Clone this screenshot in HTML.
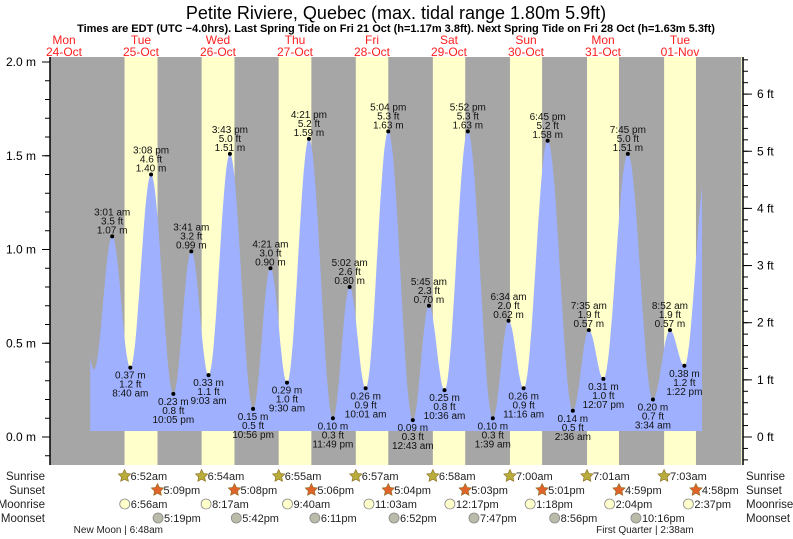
<!DOCTYPE html>
<html><head><meta charset="utf-8"><style>
body{margin:0;background:#fff;}
svg{display:block;font-family:"Liberation Sans",sans-serif;}
</style></head><body>
<svg id="c" width="793" height="539" viewBox="0 0 793 539"></svg>
<script>
// ---- data ----
const eventTimes=["10-24 14:40","10-24 21:20","10-25 03:01","10-25 08:40","10-25 15:08","10-25 22:05","10-26 03:41","10-26 09:03","10-26 15:43","10-26 22:56","10-27 04:21","10-27 09:30","10-27 16:21","10-27 23:49","10-28 05:02","10-28 10:01","10-28 17:04","10-29 00:43","10-29 05:45","10-29 10:36","10-29 17:52","10-30 01:39","10-30 06:34","10-30 11:16","10-30 18:45","10-31 02:36","10-31 07:35","10-31 12:07","10-31 19:45","11-01 03:34","11-01 08:52","11-01 13:22","11-01 20:20"];
const eventHeights=[1.30,0.36,1.07,0.37,1.40,0.23,0.99,0.33,1.51,0.15,0.90,0.29,1.59,0.10,0.80,0.26,1.63,0.09,0.70,0.25,1.63,0.10,0.62,0.26,1.58,0.14,0.57,0.31,1.51,0.20,0.57,0.38,1.45];
const eventLabeled=[0,0,1,1,1,1,1,1,1,1,1,1,1,1,1,1,1,1,1,1,1,1,1,1,1,1,1,1,1,1,1,1,0];
const dayNames=["Mon","Tue","Wed","Thu","Fri","Sat","Sun","Mon","Tue"];
const dayDates=["24-Oct","25-Oct","26-Oct","27-Oct","28-Oct","29-Oct","30-Oct","31-Oct","01-Nov"];
const sunrises=["6:52am","6:54am","6:55am","6:57am","6:58am","7:00am","7:01am","7:03am","7:04am"];
const sunsets=["5:09pm","5:08pm","5:06pm","5:04pm","5:03pm","5:01pm","4:59pm","4:58pm"];
const moonrises=["6:56am","8:17am","9:40am","11:03am","12:17pm","1:18pm","2:04pm","2:37pm"];
const moonsets=["5:19pm","5:42pm","6:11pm","6:52pm","7:47pm","8:56pm","10:16pm"];
const mTicks=[0,0.5,1.0,1.5,2.0];
const ftTicks=[0,1,2,3,4,5,6];
const curveStart="10-24 20:10", curveEnd="11-01 18:52";
// ---- scales ----
const X0=102.5, PXD=77, Y0=437, PXM=187.5;
const L=50,R=742,T=57,B=465;
function dayIdx(s){const [md,hm]=s.split(" ");const [mo,d]=md.split("-").map(Number);const [h,m]=hm.split(":").map(Number);const dd=(mo===10?d-25:d+6);return dd+(h+m/60)/24;}
function t12(s){let m=s.match(/(\d+):(\d+)(am|pm)/);let h=+m[1]%12+(m[3]==="pm"?12:0);return (h+ +m[2]/60)/24;}
const x=t=>X0+t*PXD, y=v=>Y0-v*PXM;
const svg=document.getElementById('c');const NS="http://www.w3.org/2000/svg";
function el(tag,attrs,txt){const e=document.createElementNS(NS,tag);for(const k in attrs)e.setAttribute(k,attrs[k]);if(txt!==undefined)e.textContent=txt;svg.appendChild(e);return e;}
// background
let bg=el('rect',{x:L,y:T,width:R-L,height:B-T,fill:'#a6a6a6'});


for(let d=0;d<=8;d++){
  const sr=d+t12(sunrises[d]);const ss=d<8?d+t12(sunsets[d]):d+0.72;
  const a=Math.max(L,x(sr)),b=Math.min(R,x(ss));if(b<=a)continue;
  const r=el('rect',{x:a,y:T,width:b-a,height:B-T,fill:'#ffffcc'});
  
  
}
// curve
const et=eventTimes.map(dayIdx);
function h(t){for(let i=0;i<et.length-1;i++){if(t>=et[i]&&t<=et[i+1]){const f=(t-et[i])/(et[i+1]-et[i]);return eventHeights[i]+(eventHeights[i+1]-eventHeights[i])*(1-Math.cos(Math.PI*f))/2;}}return eventHeights[0];}
const cs=dayIdx(curveStart),ce=dayIdx(curveEnd);const base=431;
let p=`M${x(cs)},${base}`;for(let t=cs;t<=ce;t+=0.004)p+=`L${x(t).toFixed(1)},${y(h(t)).toFixed(1)}`;p+=`L${x(ce)},${y(h(ce))}L${x(ce)},${base}Z`;
const area=el('path',{d:p,fill:'#9fb1fe'});


// labels
function fmt(s){const hm=s.split(" ")[1];let [hh,mm]=hm.split(":").map(Number);const ap=hh<12?"am":"pm";hh=hh%12||12;return hh+":"+String(mm).padStart(2,"0")+" "+ap;}
for(let i=0;i<et.length;i++){if(!eventLabeled[i])continue;
  const px=x(et[i]),py=y(eventHeights[i]);
  const hi=(i>0&&eventHeights[i]>eventHeights[i-1])||(i===0);
  const dot=el('circle',{cx:px,cy:py,r:2,fill:'#000'});
  
  
  const ls=[eventHeights[i].toFixed(2)+" m",(eventHeights[i]*3.2808).toFixed(1)+" ft",fmt(eventTimes[i])];
  const off=hi?[-3,-12,-21]:[11,20,29];
  ls.forEach((s,k)=>{const t=el('text',{x:px,y:py+off[k],'font-size':10,'text-anchor':'middle',fill:'#111'},s);
    
    });
}
// axes
el('line',{x1:L,y1:T,x2:L,y2:B,stroke:'#000','stroke-width':1.5});
el('line',{x1:743,y1:T,x2:743,y2:B,stroke:'#000','stroke-width':1.5});
for(let v=-0.1;v<=2.05;v+=0.1){const yy=y(v);if(yy<T||yy>B)continue;el('line',{x1:45,y1:yy,x2:L,y2:yy,stroke:'#000'});}
mTicks.forEach(v=>{el('line',{x1:42,y1:y(v),x2:L,y2:y(v),stroke:'#000'});
  const t=el('text',{x:36,y:y(v)+4,'font-size':12,'text-anchor':'end'},v.toFixed(1)+" m");
  
  });
for(let f=-0.4;f<=7;f+=0.2){const yy=Y0-f*0.3048*PXM;if(yy<T||yy>B)continue;el('line',{x1:743,y1:yy,x2:748,y2:yy,stroke:'#000'});}
ftTicks.forEach(f=>{const yy=Y0-f*0.3048*PXM;el('line',{x1:743,y1:yy,x2:752,y2:yy,stroke:'#000'});
  const t=el('text',{x:757,y:yy+4,'font-size':12},f+" ft");
  
  });
// title
let tt=el('text',{x:396,y:19,'font-size':18,'text-anchor':'middle'},"Petite Riviere, Quebec (max. tidal range 1.80m 5.9ft)");


let st=el('text',{x:396,y:32,'font-size':11,'font-weight':'bold','text-anchor':'middle'},"Times are EDT (UTC \u22124.0hrs). Last Spring Tide on Fri 21 Oct (h=1.17m 3.8ft). Next Spring Tide on Fri 28 Oct (h=1.63m 5.3ft)");


dayNames.forEach((n,i)=>{const cx=x(i-1+0.5);
  const a=el('text',{x:cx,y:44,'font-size':12,'text-anchor':'middle',fill:'#ff2020'},n);
  
  
  const b=el('text',{x:cx,y:56,'font-size':12,'text-anchor':'middle',fill:'#ff2020'},dayDates[i]);
  
  });
// bottom rows
const rows=[["Sunrise",476],["Sunset",490],["Moonrise",504],["Moonset",518]];
rows.forEach(r=>{const a=el('text',{x:45,y:r[1]+4,'font-size':11.5,'text-anchor':'end',fill:'#222'},r[0]);
  
  
  const b=el('text',{x:746,y:r[1]+4,'font-size':11.5,fill:'#222'},r[0]);
  
  });
function star(cx,cy,fill){let pts="";for(let k=0;k<10;k++){const rr=k%2?3.2:6.5,a=-Math.PI/2+k*Math.PI/5;pts+=(cx+rr*Math.cos(a)).toFixed(1)+","+(cy+rr*Math.sin(a)).toFixed(1)+" ";}return el('polygon',{points:pts,fill:fill,stroke:'#8a6a20','stroke-width':0.6});}
function item(tx,yy,lbl,kind,name){let ic;
  if(kind==='sr')ic=star(tx,yy,'#b8ac3a');else if(kind==='ss')ic=star(tx,yy,'#e0642a');
  else ic=el('circle',{cx:tx,cy:yy,r:5,fill:kind==='mr'?'#ffffcc':'#bbbbaa',stroke:'#888','stroke-width':0.8});
  
  
  const t=el('text',{x:tx+6,y:yy+4,'font-size':11,fill:'#222'},lbl);
  
  }
sunrises.slice(0,8).forEach((s,i)=>item(x(i+t12(s)),rows[0][1],s,'sr','sunrise'));
sunsets.forEach((s,i)=>item(x(i+t12(s)),rows[1][1],s,'ss','sunset'));
moonrises.forEach((s,i)=>item(x(i+t12(s)),rows[2][1],s,'mr','moonrise'));
moonsets.forEach((s,i)=>item(x(i+t12(s)),rows[3][1],s,'ms','moonset'));
let nm=el('text',{x:x(t12("6:48am"))-6,y:533,'font-size':10,'text-anchor':'middle',fill:'#222'},"New Moon | 6:48am");


let fq=el('text',{x:x(7+t12("2:38am"))-5,y:533,'font-size':10,'text-anchor':'middle',fill:'#222'},"First Quarter | 2:38am");


</script>
</body></html>
